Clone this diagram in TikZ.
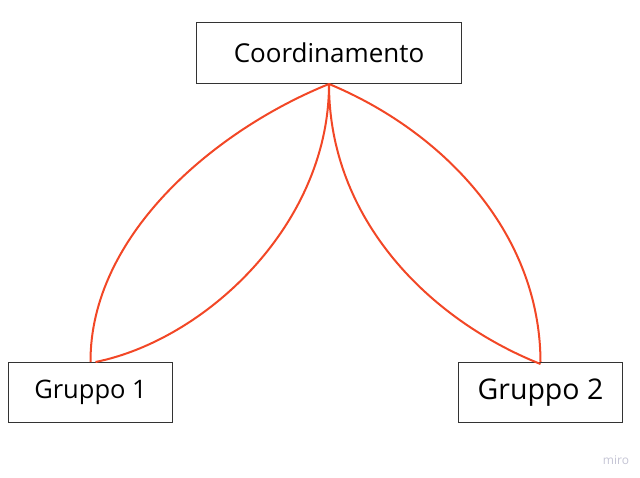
\documentclass[tikz,border=0pt]{standalone}
\usepackage{fontspec}
\setmainfont{Open Sans}
\definecolor{linkred}{HTML}{F24726}
\definecolor{boxline}{HTML}{333333}
\definecolor{miro}{HTML}{C4C4D4}
\begin{document}
\begin{tikzpicture}[x=1pt,y=-1pt,
  box/.style={draw=boxline,line width=1pt,fill=white,inner sep=0pt,anchor=north west},
  link/.style={draw=linkred,line width=2pt}]
\useasboundingbox (0,0) rectangle (640,478);
\node[box,minimum width=265pt,minimum height=61pt,font=\fontsize{26}{30}\selectfont] (c) at (196,22) {Coordinamento};
\node[box,minimum width=164pt,minimum height=60pt,font=\fontsize{25.5}{30}\selectfont] (g1) at (8,362) {Gruppo 1};
\node[box,minimum width=164pt,minimum height=60pt,font=\fontsize{28.5}{32}\selectfont] (g2) at (458,362) {Gruppo 2};
\node[text=miro,font=\fontsize{12}{14}\selectfont] (w) at (616,460) {miro};
\draw[link] (c.south) .. controls (215,130) and (90,235) .. (g1.north);
\draw[link] (c.south) .. controls (329,225) and (205,340) .. ([xshift=5pt]g1.north);
\draw[link] (c.south) .. controls (440,130) and (540,230) .. (g2.north);
\draw[link] (c.south) .. controls (329,220) and (430,320) .. ([yshift=-2pt]g2.north);
\end{tikzpicture}
\end{document}
